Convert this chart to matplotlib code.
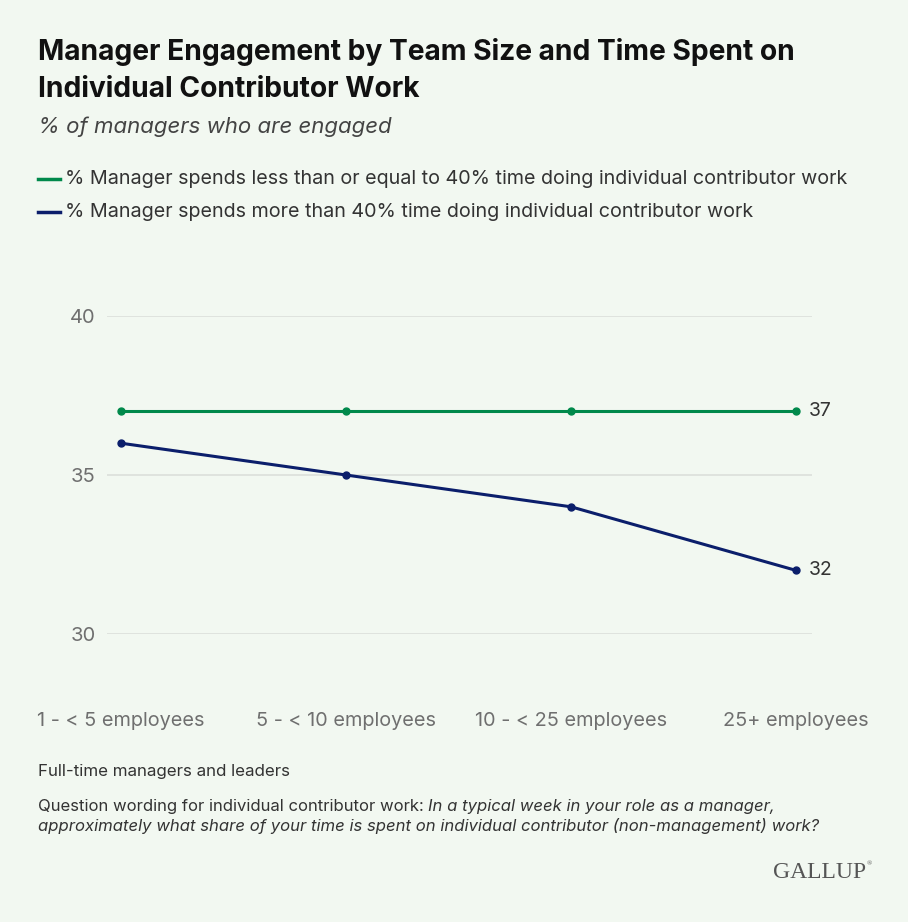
import matplotlib.pyplot as plt
import numpy as np

categories = ["1 - < 5 employees", "5 - < 10 employees", "10 - < 25 employees", "25+ employees"]
low_ic = [37, 37, 37, 37]
high_ic = [36, 35, 34, 32]
series_names = ["% Manager spends less than or equal to 40% time doing individual contributor work",
                "% Manager spends more than 40% time doing individual contributor work"]
yticks = [30, 35, 40]

bg = "#f2f8f1"
green = "#00894b"
navy = "#0b1e6b"
grey = "#6f6f6f"

plt.rcParams['font.family'] = ['Inter', 'DejaVu Sans']

W, H = 908, 922
fig = plt.figure(figsize=(W / 100, H / 100), dpi=100, facecolor=bg)

# axes spans gridlines: x 107..812 px, y 316 (40) .. 634 (30)
ax = fig.add_axes([107 / W, 1 - 634 / H, (812 - 107) / W, (634 - 316) / H], facecolor=bg)
x = np.arange(len(categories))
ax.set_xlim(-0.062, 3.071)
ax.set_ylim(30, 40)

for v in yticks:
    ax.axhline(v, color="#dcdfdb", lw=1.2, zorder=1)

ax.plot(x, low_ic, color=green, lw=2.2, marker="o", ms=5, zorder=3, clip_on=False)
ax.plot(x, high_ic, color=navy, lw=2.2, marker="o", ms=5, zorder=3, clip_on=False)

ax.text(x[-1] + 0.055, low_ic[-1], str(low_ic[-1]), va="center", ha="left", fontsize=14, color="#333333")
ax.text(x[-1] + 0.055, high_ic[-1], str(high_ic[-1]), va="center", ha="left", fontsize=14, color="#333333")

ax.set_yticks(yticks)
ax.set_yticklabels([str(v) for v in yticks], fontsize=14.5, color=grey)
ax.set_xticks(x)
ax.set_xticklabels(categories, fontsize=14.3, color=grey)
ax.tick_params(axis="both", length=0)
ax.tick_params(axis="x", pad=56)
ax.tick_params(axis="y", pad=8)
for s in ax.spines.values():
    s.set_visible(False)

# title and subtitle
fig.text(38 / W, 1 - 52 / H, "Manager Engagement by Team Size and Time Spent on", fontsize=20.3,
         fontweight="bold", color="#111111", va="center")
fig.text(38 / W, 1 - 89 / H, "Individual Contributor Work", fontsize=20.3,
         fontweight="bold", color="#111111", va="center")
fig.text(38 / W, 1 - 127 / H, "% of managers who are engaged", fontsize=16, style="italic",
         color="#444444", va="center")

# legend
for i, (name, col) in enumerate(zip(series_names, [green, navy])):
    yy = 1 - (179 + i * 33) / H
    fig.add_artist(plt.Line2D([38 / W, 60 / W], [yy, yy], color=col, lw=2.5))
    fig.text(65 / W, yy, name, fontsize=14.2, color="#333333", va="center")

# notes
fig.text(38 / W, 1 - 771 / H, "Full-time managers and leaders", fontsize=12.2, color="#333333", va="center")
lead = fig.text(38 / W, 1 - 806 / H, "Question wording for individual contributor work: ", fontsize=12,
                color="#333333", va="center")
renderer = fig.canvas.get_renderer()
bb = lead.get_window_extent(renderer)
fig.text(bb.x1 / W, 1 - 806 / H, "In a typical week in your role as a manager,", fontsize=12,
         style="italic", color="#333333", va="center")
fig.text(38 / W, 1 - 826 / H,
         "approximately what share of your time is spent on individual contributor (non-management) work?",
         fontsize=12, style="italic", color="#333333", va="center")

fig.text(866 / W, 1 - 872 / H, "GALLUP", fontsize=17, family="Liberation Serif", color="#555555",
         ha="right", va="center")
fig.text(867 / W, 1 - 864 / H, "®", fontsize=5, family="Liberation Serif", color="#555555",
         ha="left", va="center")

fig.savefig("out.png", dpi=100, facecolor=bg)
